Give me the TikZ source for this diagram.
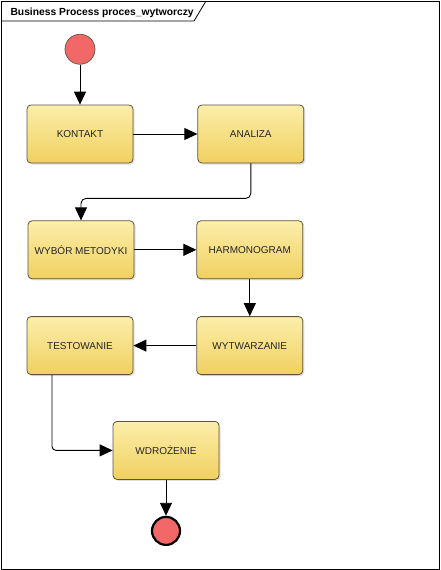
\documentclass[tikz,border=0pt]{standalone}
\usepackage{fontspec}
\setmainfont{Liberation Sans}
\usepackage{tikz}
\usetikzlibrary{arrows.meta,positioning,shadows}
\definecolor{tasktop}{RGB}{252,238,170}
\definecolor{taskbot}{RGB}{240,208,96}
\definecolor{taskline}{RGB}{96,84,60}
\definecolor{eventred}{RGB}{242,104,104}

\begin{document}
\begin{tikzpicture}[x=1pt, y=-1pt,
  task/.style={draw=taskline, line width=0.8pt, rounded corners=4pt,
    top color=tasktop, bottom color=taskbot,
    minimum width=106pt, minimum height=58pt, inner sep=2pt,
    font=\fontsize{10}{12}\selectfont, text=black!85,
    drop shadow={shadow xshift=1.5pt, shadow yshift=-1.5pt, opacity=0.25}},
  startev/.style={circle, draw=taskline, line width=0.7pt, fill=eventred,
    minimum size=30pt, inner sep=0pt},
  endev/.style={circle, draw=black, line width=2.2pt, fill=eventred,
    minimum size=28pt, inner sep=0pt},
  flow/.style={draw=black, line width=0.9pt,
    -{Triangle[length=13pt, width=12pt]}}]
\useasboundingbox (0,0) rectangle (440,570);
% frame with title tab
\draw[line width=0.8pt] (1,1) rectangle (439,569);
\draw[line width=0.8pt] (1,21) -- (194,21) -- (206,1);
\node (title) [anchor=base west, font=\fontsize{10.3}{12}\selectfont\bfseries]
  at (7,15) {Business Process proces\_wytworczy};
% nodes
\node (kontakt) [task] at (80,134) {KONTAKT};
\node (start) [startev, above=40pt of kontakt] {};
\node (analiza) [task, right=64pt of kontakt] {ANALIZA};
\node (wybor) [task, below=57pt of kontakt, xshift=1pt] {WYBÓR METODYKI};
\node (harmonogram) [task, right=62pt of wybor] {HARMONOGRAM};
\node (wytwarzanie) [task, below=37pt of harmonogram] {WYTWARZANIE};
\node (testowanie) [task, left=63pt of wytwarzanie] {TESTOWANIE};
\node (wdrozenie) [task, below=46pt of testowanie, xshift=86pt] {WDROŻENIE};
\node (stop) [endev, below=36pt of wdrozenie] {};
% flows
\draw[flow] (start) -- (kontakt);
\draw[flow] (kontakt) -- (analiza);
\draw[flow, rounded corners=5pt] (analiza.south) -- ++(0,35) -| (wybor.north);
\draw[flow] (wybor) -- (harmonogram);
\draw[flow] (harmonogram) -- (wytwarzanie);
\draw[flow] (wytwarzanie) -- (testowanie);
\draw[flow, rounded corners=4pt] ([xshift=-28pt]testowanie.south) |- (wdrozenie.west);
\draw[flow] (wdrozenie) -- (stop);
\end{tikzpicture}
\end{document}
